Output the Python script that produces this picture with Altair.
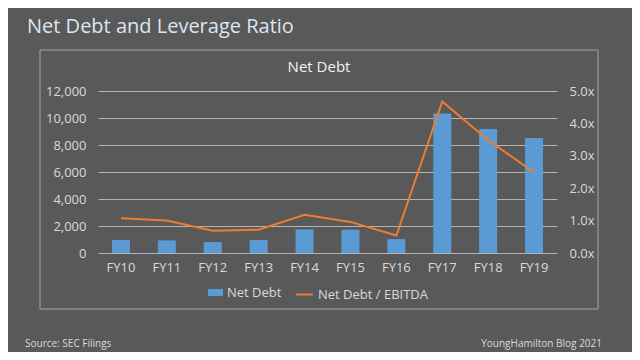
import altair as alt
import pandas as pd

years = ["FY10", "FY11", "FY12", "FY13", "FY14", "FY15", "FY16", "FY17", "FY18", "FY19"]
net_debt = [960, 935, 810, 960, 1750, 1720, 1030, 10330, 9180, 8510]
leverage = [1.07, 1.00, 0.69, 0.72, 1.18, 0.96, 0.54, 4.68, 3.48, 2.49]

df = pd.DataFrame({"year": years, "net_debt": net_debt, "leverage": leverage})

FONT = "Open Sans"
BG = "#595959"
TXT = "#d9d9d9"
BLUE = "#5b9bd5"
ORANGE = "#ed7d31"

xenc = alt.X("year:N", sort=years, title=None,
             scale=alt.Scale(paddingInner=0.6, paddingOuter=0.3),
             axis=alt.Axis(labelAngle=0, ticks=False, domain=False, labelPadding=8,
                           labelFontSize=13, labelColor=TXT, labelFont=FONT, grid=False))

bars = alt.Chart(df).mark_bar(size=18).encode(
    x=xenc,
    y=alt.Y("net_debt:Q", title=None,
            scale=alt.Scale(domain=[0, 12000]),
            axis=alt.Axis(orient="left", values=[0, 2000, 4000, 6000, 8000, 10000, 12000],
                          format=",.0f", ticks=False, domain=False, labelPadding=12,
                          grid=True, gridColor="#b4b4b4", gridWidth=1,
                          labelFontSize=13, labelColor=TXT, labelFont=FONT)),
    fill=alt.Fill("s:N", scale=alt.Scale(domain=["Net Debt"], range=[BLUE]),
                  legend=alt.Legend(title=None, orient="none", legendX=110, legendY=194,
                                    symbolType="M-1,-0.47H1V0.47H-1Z", symbolSize=225,
                                    symbolStrokeWidth=0, labelOffset=4, padding=0,
                                    labelFontSize=13, labelColor=TXT, labelFont=FONT)),
).transform_calculate(s="'Net Debt'")

line = alt.Chart(df).mark_line(strokeWidth=2).encode(
    x=alt.X("year:N", sort=years),
    y=alt.Y("leverage:Q", title=None,
            scale=alt.Scale(domain=[0, 5]),
            axis=alt.Axis(orient="right", values=[0, 1, 2, 3, 4, 5],
                          labelExpr="format(datum.value, '.1f') + 'x'",
                          ticks=False, domain=False, labelPadding=12, grid=False,
                          labelFontSize=13, labelColor=TXT, labelFont=FONT)),
    stroke=alt.Stroke("s:N", scale=alt.Scale(domain=["Net Debt / EBITDA"], range=[ORANGE]),
                      legend=alt.Legend(title=None, orient="none", legendX=197, legendY=194,
                                        symbolType="stroke", symbolSize=289,
                                        symbolStrokeWidth=2, labelOffset=4, padding=0,
                                        labelFontSize=13, labelColor=TXT, labelFont=FONT)),
).transform_calculate(s="'Net Debt / EBITDA'")

box = alt.Chart(pd.DataFrame({"a": [0]})).mark_rect(
    fillOpacity=0, stroke="#a6a6a6", strokeWidth=1
).encode(x=alt.value(-58), x2=alt.value(500), y=alt.value(-41), y2=alt.value(218))

def txt(s, x, y, size, color, align="left"):
    return alt.Chart(pd.DataFrame({"t": [s]})).mark_text(
        align=align, baseline="alphabetic", fontSize=size, color=color, font=FONT
    ).encode(text="t:N", x=alt.value(x), y=alt.value(y))

title = txt("Net Debt and Leverage Ratio", -71, -58, 20, "#dce6f2")
sub = txt("Net Debt", 221, -19, 15, "#f2f2f2", align="center")
src = txt("Source: SEC Filings", -73, 256, 10, TXT)
blog = txt("YoungHamilton Blog 2021", 504, 256, 10, TXT, align="right")

chart = alt.layer(box, bars, line, title, sub, src, blog).resolve_scale(
    y="independent", fill="independent", stroke="independent"
).properties(
    width=459, height=162,
    autosize=alt.AutoSizeParams(type="none"),
    padding={"left": 90, "top": 83, "right": 75, "bottom": 99},
).configure(background=BG).configure_view(stroke=None)

chart.save("out.html", embed_options={"renderer": "svg", "actions": False})
